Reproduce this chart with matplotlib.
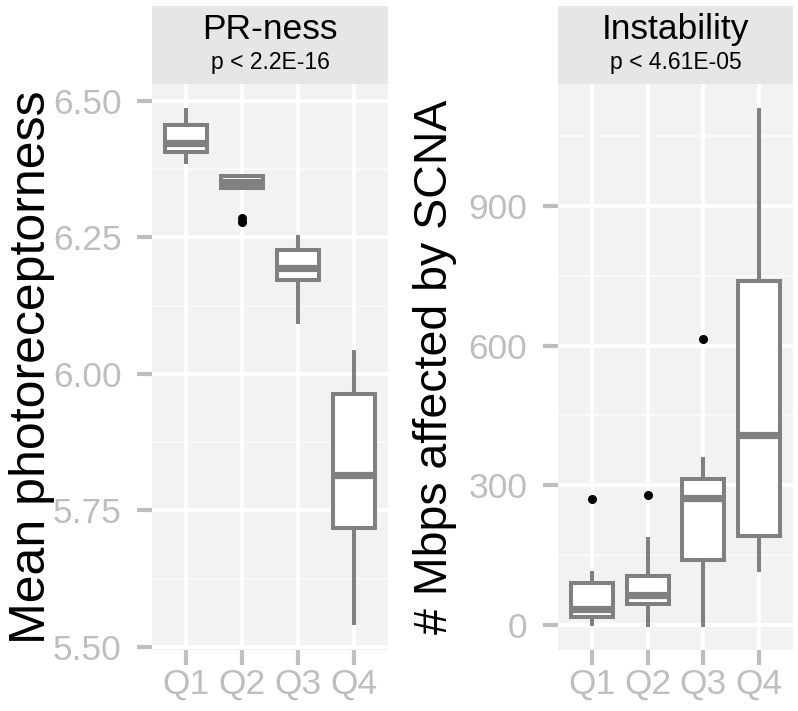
import matplotlib
matplotlib.use("Agg")
import matplotlib.pyplot as plt

plt.rcParams['font.family'] = ['Liberation Sans', 'DejaVu Sans']

# Categories
groups = ["Q1", "Q2", "Q3", "Q4"]

# PR-ness panel (box stats)
pr_low = [6.388, 6.341, 6.095, 5.544]
pr_q1 = [6.407, 6.341, 6.172, 5.718]
pr_med = [6.423, 6.351, 6.194, 5.815]
pr_q3 = [6.456, 6.363, 6.227, 5.963]
pr_high = [6.483, 6.363, 6.251, 6.040]
pr_out = [[], [6.286, 6.278], [], []]

# Instability panel
in_low = [3, 0, 0, 118]
in_q1 = [17, 46, 140, 191]
in_med = [35, 64, 272, 408]
in_q3 = [90, 105, 314, 739]
in_high = [112, 185, 356, 1106]
in_out = [[270], [279], [614], []]

BOX = "#808080"
TICK = "#BEBEBE"


def make_stats(low, q1, med, q3, high, out):
    stats = []
    for i in range(len(groups)):
        stats.append(dict(whislo=low[i], q1=q1[i], med=med[i], q3=q3[i],
                          whishi=high[i], fliers=out[i], label=groups[i]))
    return stats


def panel(fig, rect, stats, ylim, yticks, yticklabels, minor, title, ptext,
          ylabel, ylabel_x, ylabel_size):
    ax = fig.add_axes(rect)
    ax.set_facecolor("#F2F2F2")
    for y in minor:
        ax.axhline(y, color="#FAFAFA", lw=1.4, zorder=0)
    for y in yticks:
        ax.axhline(y, color="white", lw=2.8, zorder=0.5)
    for x in range(1, 5):
        ax.axvline(x, color="white", lw=2.8, zorder=0.5)

    ax.bxp(stats, positions=[1, 2, 3, 4], widths=0.75, showcaps=False,
           patch_artist=True,
           boxprops=dict(facecolor="white", edgecolor=BOX, linewidth=2.9),
           whiskerprops=dict(color=BOX, linewidth=2.9),
           medianprops=dict(color=BOX, linewidth=5.2, solid_capstyle="butt"),
           flierprops=dict(marker="o", markerfacecolor="black", markeredgecolor="black",
                           markersize=5.5))

    ax.set_xlim(0.4, 4.6)
    ax.set_ylim(*ylim)
    ax.set_yticks(yticks)
    ax.set_yticklabels(yticklabels)
    ax.set_xticks([1, 2, 3, 4])
    ax.set_xticklabels(groups)
    ax.tick_params(axis="both", colors=TICK, labelcolor=TICK, labelsize=25.5,
                   length=11, width=3.0)
    ax.tick_params(axis="y", pad=11)
    ax.tick_params(axis="x", pad=2)
    for s in ax.spines.values():
        s.set_visible(False)

    # strip on top
    l, b, w, h = rect
    sax = fig.add_axes([l, b + h, w, 78 / 711])
    sax.set_facecolor("#E6E6E6")
    sax.set_xticks([])
    sax.set_yticks([])
    for s in sax.spines.values():
        s.set_visible(False)
    sax.text(0.5, 0.70, title, ha="center", va="center", fontsize=25.5,
             transform=sax.transAxes)
    sax.text(0.5, 0.27, ptext, ha="center", va="center", fontsize=16.5,
             transform=sax.transAxes)

    fig.text(ylabel_x, b + h / 2, ylabel, rotation=90, ha="center", va="center",
             fontsize=ylabel_size)
    return ax


fig = plt.figure(figsize=(7.98, 7.11), dpi=100)

panel(fig, [152 / 798, 61 / 711, 236 / 798, 566 / 711],
      make_stats(pr_low, pr_q1, pr_med, pr_q3, pr_high, pr_out),
      (5.4945, 6.531), [5.50, 5.75, 6.00, 6.25, 6.50],
      ["5.50", "5.75", "6.00", "6.25", "6.50"],
      [5.625, 5.875, 6.125, 6.375],
      "PR-ness", "p < 2.2E-16", "Mean photoreceptorness", 32 / 798, 36)

panel(fig, [558 / 798, 61 / 711, 235 / 798, 566 / 711],
      make_stats(in_low, in_q1, in_med, in_q3, in_high, in_out),
      (-53.7, 1161.7), [0, 300, 600, 900],
      ["0", "300", "600", "900"],
      [150, 450, 750, 1050],
      "Instability", "p < 4.61E-05", "# Mbps affected by SCNA", 435 / 798, 33.5)

fig.savefig("out.png", dpi=100)
